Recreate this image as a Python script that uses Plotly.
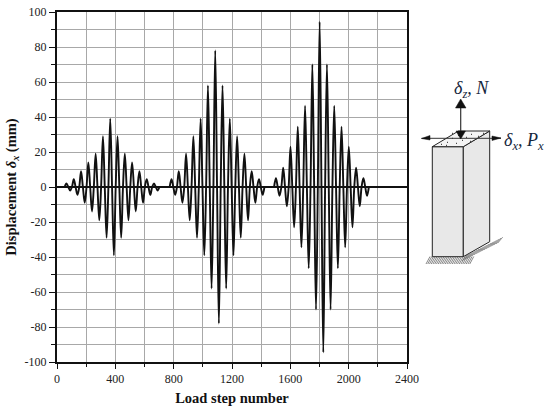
import plotly.graph_objects as go

W, H = 550, 408
L, R, T, B = 57, 143, 12, 46

# Peak positions of the three bursts (load step) and their amplitudes (mm)
burst1_steps = [65, 115, 165, 215, 265, 315, 365, 415, 465, 515, 565, 615, 665]
burst1_amps = [2, 4.5, 9, 14, 19, 29, 39, 29, 19, 14, 9, 4.5, 2]
burst2_steps = [785, 835, 885, 935, 985, 1035, 1085, 1135, 1185, 1235, 1285, 1335, 1385]
burst2_amps = [4.5, 9, 19, 29, 39, 58, 78, 58, 39, 29, 19, 9, 4.5]
burst3_steps = [1501, 1551, 1601, 1651, 1701, 1751, 1801, 1851, 1901, 1951, 2001, 2051, 2101]
burst3_amps = [5, 11, 23, 34.5, 46.5, 70, 94.5, 70, 46.5, 34.5, 23, 11, 5]
half_cycle = 25

x_ticks = [0, 400, 800, 1200, 1600, 2000, 2400]
y_ticks = [-100, -80, -60, -40, -20, 0, 20, 40, 60, 80, 100]
y_labels = ["-100", "-80", "-60", "-40", "-20", "0", "20", "40", "60", "80", "100"]

FONT = "Liberation Serif"


def burst(steps, amps):
    xs = [steps[0] - half_cycle / 2]
    ys = [0]
    q = half_cycle / 2
    for s, a in zip(steps, amps):
        xs += [s, s + q, s + 2 * q, s + 3 * q]
        ys += [a, 0, -a, 0]
    return xs, ys


fig = go.Figure()
for st, am in [(burst1_steps, burst1_amps), (burst2_steps, burst2_amps), (burst3_steps, burst3_amps)]:
    xs, ys = burst(st, am)
    fig.add_trace(go.Scatter(x=xs, y=ys, mode="lines", showlegend=False, hoverinfo="skip",
                             line=dict(color="#111111", width=1.9, shape="spline", smoothing=1.0)))


PW, PH = W - L - R, H - T - B


def px(x):
    return (x - L) / PW


def py(y):
    return 1 - (y - T) / PH


# Positions of the pictogram are pixel coordinates of the page
def poly(points, **kw):
    d = "M" + " L".join(f"{px(a):.5f},{py(b):.5f}" for a, b in points) + " Z"
    return dict(type="path", xref="paper", yref="paper", path=d, layer="above", **kw)


def seg(x0, y0, x1, y1, color="#222222", width=1):
    return dict(type="line", xref="paper", yref="paper", x0=px(x0), y0=py(y0), x1=px(x1), y1=py(y1),
                line=dict(color=color, width=width), layer="above")


edge = dict(color="#222222", width=1)
shapes = []
# ground hatch
for i in range(26):
    xa = 426 + i * 1.75
    shapes.append(seg(xa + 4, 256.5, xa, 264, "#555555", 0.7))
for i in range(22):
    xa = 463 + i * 1.7
    yb = 257 - i * 0.85
    shapes.append(seg(xa + 4, yb - 2, xa - 1, yb + 4, "#666666", 0.7))
shapes += [
    poly([(432.3, 146.7), (463.3, 146.7), (463.3, 256.7), (432.3, 256.7)], fillcolor="#e8e8e8", line=edge),
    poly([(463.3, 146.7), (489.7, 131), (489.7, 241.7), (463.3, 256.7)], fillcolor="#e8e8e8", line=edge),
    poly([(432.3, 146.7), (458.5, 131), (489.7, 131), (463.3, 146.7)], fillcolor="#f4f4f4", line=edge),
]
for a, b in [(447, 142), (452, 138), (458, 135), (466, 137), (471, 134), (478, 136), (456, 143), (462, 140),
             (446, 145), (470, 141), (483, 133), (441, 144), (452, 133)]:
    shapes.append(seg(a, b, a + 1, b + 0.6, "#222222", 1))
shapes += [
    seg(460.7, 103, 460.7, 133, "#333333", 1.2),
    seg(421.5, 138.3, 501, 138.3, "#333333", 1),
    poly([(460.7, 99), (455.5, 108), (466, 108)], fillcolor="#111111", line=dict(color="#111111", width=0.5)),
    poly([(460.7, 139), (456, 131), (465.5, 131)], fillcolor="#111111", line=dict(color="#111111", width=0.5)),
    poly([(421.5, 138.5), (430, 135.5), (430, 140)], fillcolor="#111111", line=dict(color="#111111", width=0.5)),
    poly([(501, 138), (492, 136), (492, 140.5)], fillcolor="#111111", line=dict(color="#111111", width=0.5)),
]

label_color = "#14263c"
annotations = [
    dict(text="<i>δ<sub>z</sub>, N</i>", xref="paper", yref="paper", x=px(491), y=py(76), showarrow=False,
         font=dict(family=FONT, size=18, color=label_color)),
    dict(text="<i>δ<sub>x</sub>, P<sub>x</sub></i>", xref="paper", yref="paper", x=px(546), y=py(141), showarrow=False,
         font=dict(family=FONT, size=18, color=label_color)),
]

grid = "#a8a8a8"
fig.update_layout(
    width=W, height=H, autosize=False, paper_bgcolor="white", plot_bgcolor="white",
    margin=dict(l=L, r=R, t=T, b=B, autoexpand=False), shapes=shapes, annotations=annotations,
    font=dict(family=FONT, color="#222222", size=12),
    xaxis=dict(range=[0, 2400], tickmode="array", tickvals=x_ticks, ticktext=[str(v) for v in x_ticks],
               ticks="outside", ticklen=5, tickwidth=1.2, tickcolor="#111111", showgrid=True, gridcolor=grid, gridwidth=1.2,
               zeroline=False, showline=True, linecolor="#111111", linewidth=1.6, mirror=True,
               minor=dict(dtick=200, ticks="outside", ticklen=3, tickwidth=1.2, tickcolor="#111111",
                          showgrid=True, gridcolor=grid, gridwidth=1.2),
               title=dict(text="<b>Load step number</b>", font=dict(family=FONT, size=14.5, color="#111111"), standoff=8)),
    yaxis=dict(range=[-100, 100], tickmode="array", tickvals=y_ticks, ticktext=y_labels,
               ticks="outside", ticklen=6, tickwidth=1.2, tickcolor="#111111", showgrid=True, gridcolor=grid, gridwidth=1.2,
               zeroline=True, zerolinecolor="#111111", zerolinewidth=1.6,
               showline=True, linecolor="#111111", linewidth=2, mirror=True,
               minor=dict(dtick=10, ticks="outside", ticklen=4, tickwidth=1.2, tickcolor="#111111",
                          showgrid=True, gridcolor=grid, gridwidth=1.2),
               title=dict(text="<b>Displacement <i>δ<sub>x</sub></i> (mm)</b>", font=dict(family=FONT, size=14.5, color="#111111"), standoff=5)),
)

fig.write_html("out.html", config={"displayModeBar": False},
               post_script="document.body.style.margin='0';")
